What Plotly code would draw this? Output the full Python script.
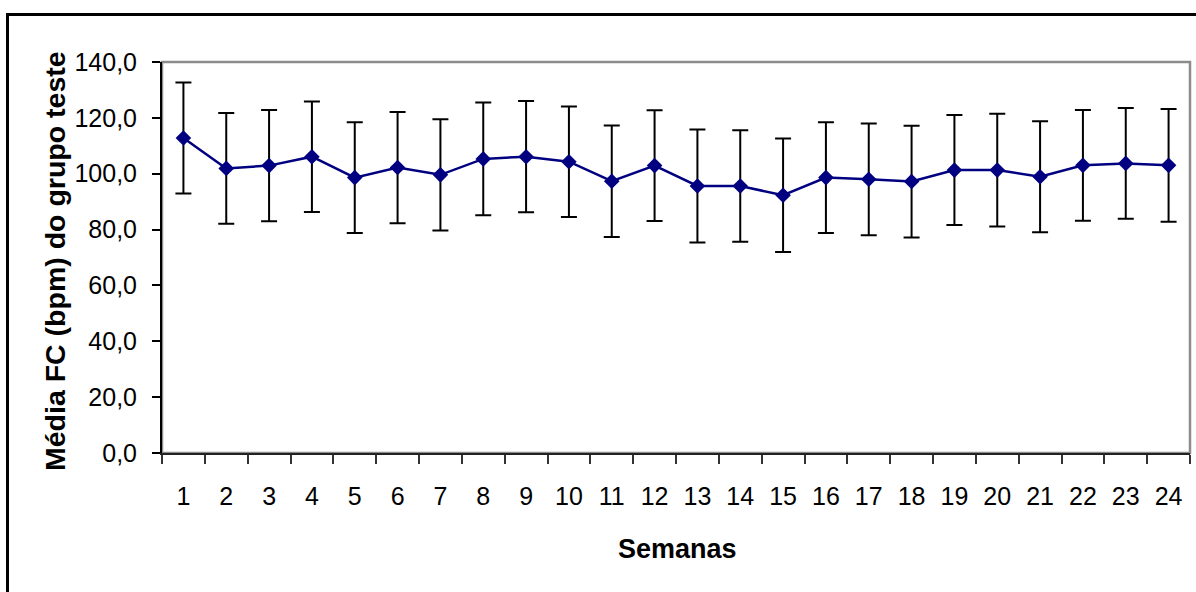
import plotly.graph_objects as go

# Weekly mean heart rate (bpm) of the test group, with standard deviation
semanas = [str(i) for i in range(1, 25)]
media_fc = [112.8, 101.9, 102.9, 106.1, 98.6, 102.2, 99.6, 105.3, 106.1, 104.3,
            97.3, 102.9, 95.6, 95.6, 92.3, 98.6, 98.0, 97.2, 101.3, 101.3,
            98.9, 103.0, 103.7, 103.0]
desvio_fc = [19.9, 19.8, 19.9, 19.8, 19.8, 19.9, 19.9, 20.2, 19.9, 19.8,
             20.0, 19.8, 20.2, 20.0, 20.3, 19.8, 20.0, 20.0, 19.7, 20.2,
             19.9, 19.8, 19.8, 20.2]
y_ticks = [0, 20, 40, 60, 80, 100, 120, 140]

W, H = 1196, 592
L, R, T, B = 162, 6, 62, 139
pw, ph = W - L - R, H - T - B


def px_x(p):
    return (p - L) / pw


def px_y(p):
    return (H - B - p) / ph


font_family = "Liberation Sans, Arial, sans-serif"

fig = go.Figure()
fig.add_trace(go.Scatter(
    x=semanas,
    y=media_fc,
    mode="lines+markers",
    line=dict(color="#000080", width=2.5),
    marker=dict(symbol="diamond", size=12, color="#000080"),
    error_y=dict(type="data", array=desvio_fc, visible=True,
                 color="black", thickness=2, width=8),
    showlegend=False,
))

fig.update_layout(
    width=W, height=H,
    margin=dict(l=L, r=R, t=T, b=B, autoexpand=False),
    paper_bgcolor="white",
    plot_bgcolor="white",
    separators=",.",
    font=dict(family=font_family, color="black", size=25),
    xaxis=dict(
        type="category",
        range=[-0.5, 23.5],
        tickson="boundaries",
        ticks="outside",
        ticklen=9,
        tickwidth=1.5,
        tickcolor="#333333",
        showline=True,
        linecolor="#222222",
        linewidth=2,
        showgrid=False,
        zeroline=False,
        tickfont=dict(size=25),
        ticklabelstandoff=20,
    ),
    yaxis=dict(
        range=[0, 140],
        tickvals=y_ticks,
        tickformat=".1f",
        ticks="outside",
        ticklen=8,
        tickwidth=1.5,
        tickcolor="black",
        showline=True,
        linecolor="black",
        linewidth=2,
        showgrid=False,
        zeroline=False,
        tickfont=dict(size=25),
        ticklabelstandoff=10,
    ),
    shapes=[
        # plot-area frame
        dict(type="rect", xref="paper", yref="paper", x0=0, x1=1, y0=0, y1=1,
             line=dict(color="#8c8c8c", width=2.5), layer="below"),
        # outer chart border
        dict(type="rect", xref="paper", yref="paper",
             x0=px_x(7.5), x1=px_x(1210), y0=px_y(610), y1=px_y(14.5),
             line=dict(color="black", width=3), layer="above"),
    ],
    annotations=[
        dict(text="<b>Semanas</b>", xref="paper", yref="paper",
             x=px_x(677), y=px_y(549), xanchor="center", yanchor="middle",
             showarrow=False, font=dict(size=27)),
        dict(text="<b>Média FC (bpm) do grupo teste</b>", xref="paper", yref="paper",
             x=px_x(55), y=px_y(261), xanchor="center", yanchor="middle",
             textangle=-90, showarrow=False, font=dict(size=28.5)),
    ],
)

fig.write_html("out.html")
